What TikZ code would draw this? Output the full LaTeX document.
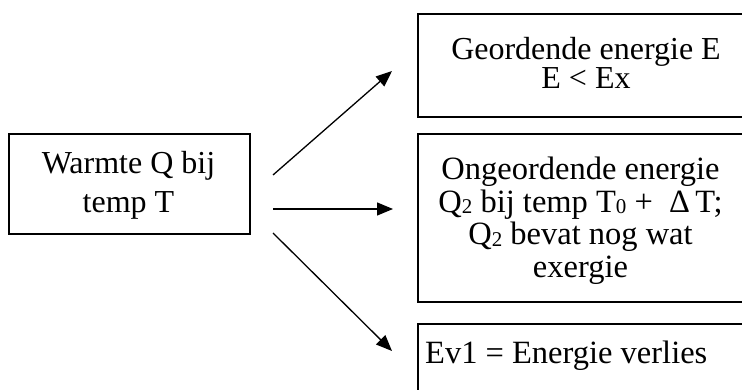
\documentclass[tikz,border=0pt]{standalone}
\usepackage{fontspec}
\setmainfont{Liberation Serif}
\usetikzlibrary{arrows.meta}
% small, slightly lowered index digit
\newcommand\lowsub[1]{\raisebox{-1.5pt}{\fontsize{21}{21}\selectfont #1}}
\tikzset{
  box/.style={draw, line width=1.6pt, inner sep=0pt, anchor=north west},
  txt/.style={font=\fontsize{32.5}{32.5}\selectfont, align=center, inner sep=0pt},
  arr/.style={line width=1.3pt, -{Triangle[length=16pt,width=13pt]}}
}
\begin{document}
\begin{tikzpicture}[x=1pt,y=-1pt]
\useasboundingbox (0,0) rectangle (742,390);
\begin{scope}
\clip (0,0) rectangle (742,390);
% source box (text anchored at the baseline of its last line)
\node[box, minimum width=241pt, minimum height=100pt] (warm) at (8,133) {};
\node[txt, font=\fontsize{32}{39}\selectfont, anchor=base] (warmtxt) at (128.5,213) {Warmte Q bij\\temp T};
% ordered energy
\node[box, minimum width=340pt, minimum height=103pt] (ord) at (417,13) {};
\node[txt, font=\fontsize{32}{27}\selectfont, anchor=base] (ordtxt) at (586,88.5) {Geordende energie E\\E < Ex};
% disordered energy
\node[box, minimum width=330pt, minimum height=168pt] (dis) at (417,133) {};
\node[txt, anchor=base] (distxt) at (580.5,277) {Ongeordende energie\\Q\lowsub{2} bij temp T\lowsub{0} +\ \ Δ\,T;\\Q\lowsub{2} bevat nog wat\\exergie};
% energy loss
\node[box, minimum width=340pt, minimum height=100pt] (loss) at (417,323) {};
\node[txt, anchor=base west] (losstxt) at (425,363) {Ev1 = Energie verlies};
% connectors
\coordinate (s1) at (273,175);
\coordinate (e1) at (392,71);
\coordinate (s2) at (273,209);
\coordinate (e2) at (393,209);
\coordinate (s3) at (273,233);
\coordinate (e3) at (392,351);
\draw[arr] (s1) -- (e1);
\draw[arr] (s2) -- (e2);
\draw[arr] (s3) -- (e3);
\end{scope}
\end{tikzpicture}
\end{document}
